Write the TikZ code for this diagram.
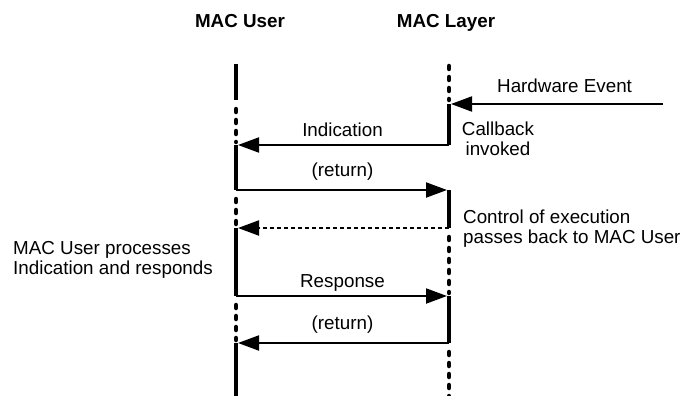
\documentclass[tikz,border=0pt]{standalone}
\usepackage{fontspec}
\setmainfont{Liberation Sans}
\usetikzlibrary{arrows.meta}
\begin{document}
\begin{tikzpicture}[x=1pt,y=-1pt,
  txt/.style={font=\fontsize{18.8}{20}\selectfont, inner sep=0pt},
  hdr/.style={inner sep=0pt, font=\fontsize{18.8}{20}\selectfont\bfseries},
  life/.style={line width=4pt},
  dots/.style={line width=4.5pt, line cap=round, dash pattern=on 3pt off 8pt},
  msg/.style={line width=2pt, -{Triangle[length=21pt,width=15pt]}, shorten >=2pt},
  ret/.style={msg, dash pattern=on 4pt off 3pt}]
\useasboundingbox (0,0) rectangle (683,396);
% lifeline points
\coordinate (L0) at (236,64);
\coordinate (L1) at (236,100);
\coordinate (La) at (236,145);
\coordinate (Lb) at (236,190);
\coordinate (Lc) at (236,228);
\coordinate (Ld) at (236,296);
\coordinate (Le) at (236,343);
\coordinate (Lend) at (236,396);
\coordinate (R0) at (449,66);
\coordinate (Ra) at (449,104);
\coordinate (Rb) at (449,145);
\coordinate (Rc) at (449,190);
\coordinate (Rd) at (449,228);
\coordinate (Re) at (449,296);
\coordinate (Rf) at (449,343);
\coordinate (Rend) at (449,396);
\coordinate (hwstart) at (663,104);
% lifelines
\draw[life] (L0) -- (L1);
\draw[dots, shorten <=9pt, shorten >=3pt] (L1) -- (La);
\draw[life] (La) -- (Lb);
\draw[dots, shorten <=9pt, shorten >=3pt] (Lb) -- (Lc);
\draw[life] (Lc) -- (Ld);
\draw[dots, shorten <=9pt, shorten >=3pt] (Ld) -- (Le);
\draw[life] (Le) -- (Lend);
\draw[dots, shorten >=4pt] (R0) -- (Ra);
\draw[life] (Ra) -- (Rb);
\draw[life] (Rc) -- (Rd);
\draw[dots, shorten <=9pt, shorten >=3pt] (Rd) -- (Re);
\draw[life] (Re) -- (Rf);
\draw[dots, shorten <=9pt] (Rf) -- (Rend);
% headers
\node[hdr, anchor=base] (huser) at (240,27.5) {MAC User};
\node[hdr, anchor=base] (hlayer) at (446,27.5) {MAC Layer};
% messages
\node[txt, anchor=base west] (hw) at (497,92.7) {Hardware Event};
\draw[msg] (hwstart) -- (Ra);
\draw[msg] (Rb) -- (La) node[midway, txt, anchor=base, yshift=8.3pt] (lind) {Indication};
\draw[msg] (Lb) -- (Rc) node[midway, txt, anchor=base, yshift=14pt] (lret1) {(return)};
\draw[ret] (Rd) -- (Lc);
\draw[msg] (Ld) -- (Re) node[midway, txt, anchor=base, yshift=9pt] (lresp) {Response};
\draw[msg] (Rf) -- (Le) node[midway, txt, anchor=base, yshift=14pt] (lret2) {(return)};
% notes
\node[txt, align=center, anchor=north] (cb) at (498,121.5) {Callback\\invoked};
\node[txt, align=left, anchor=north west] (ctl) at (463,209.8) {Control of execution\\passes back to MAC User};
\node[txt, align=left, anchor=north west] (proc) at (13,241.5) {MAC User processes\\Indication and responds};
\end{tikzpicture}
\end{document}
